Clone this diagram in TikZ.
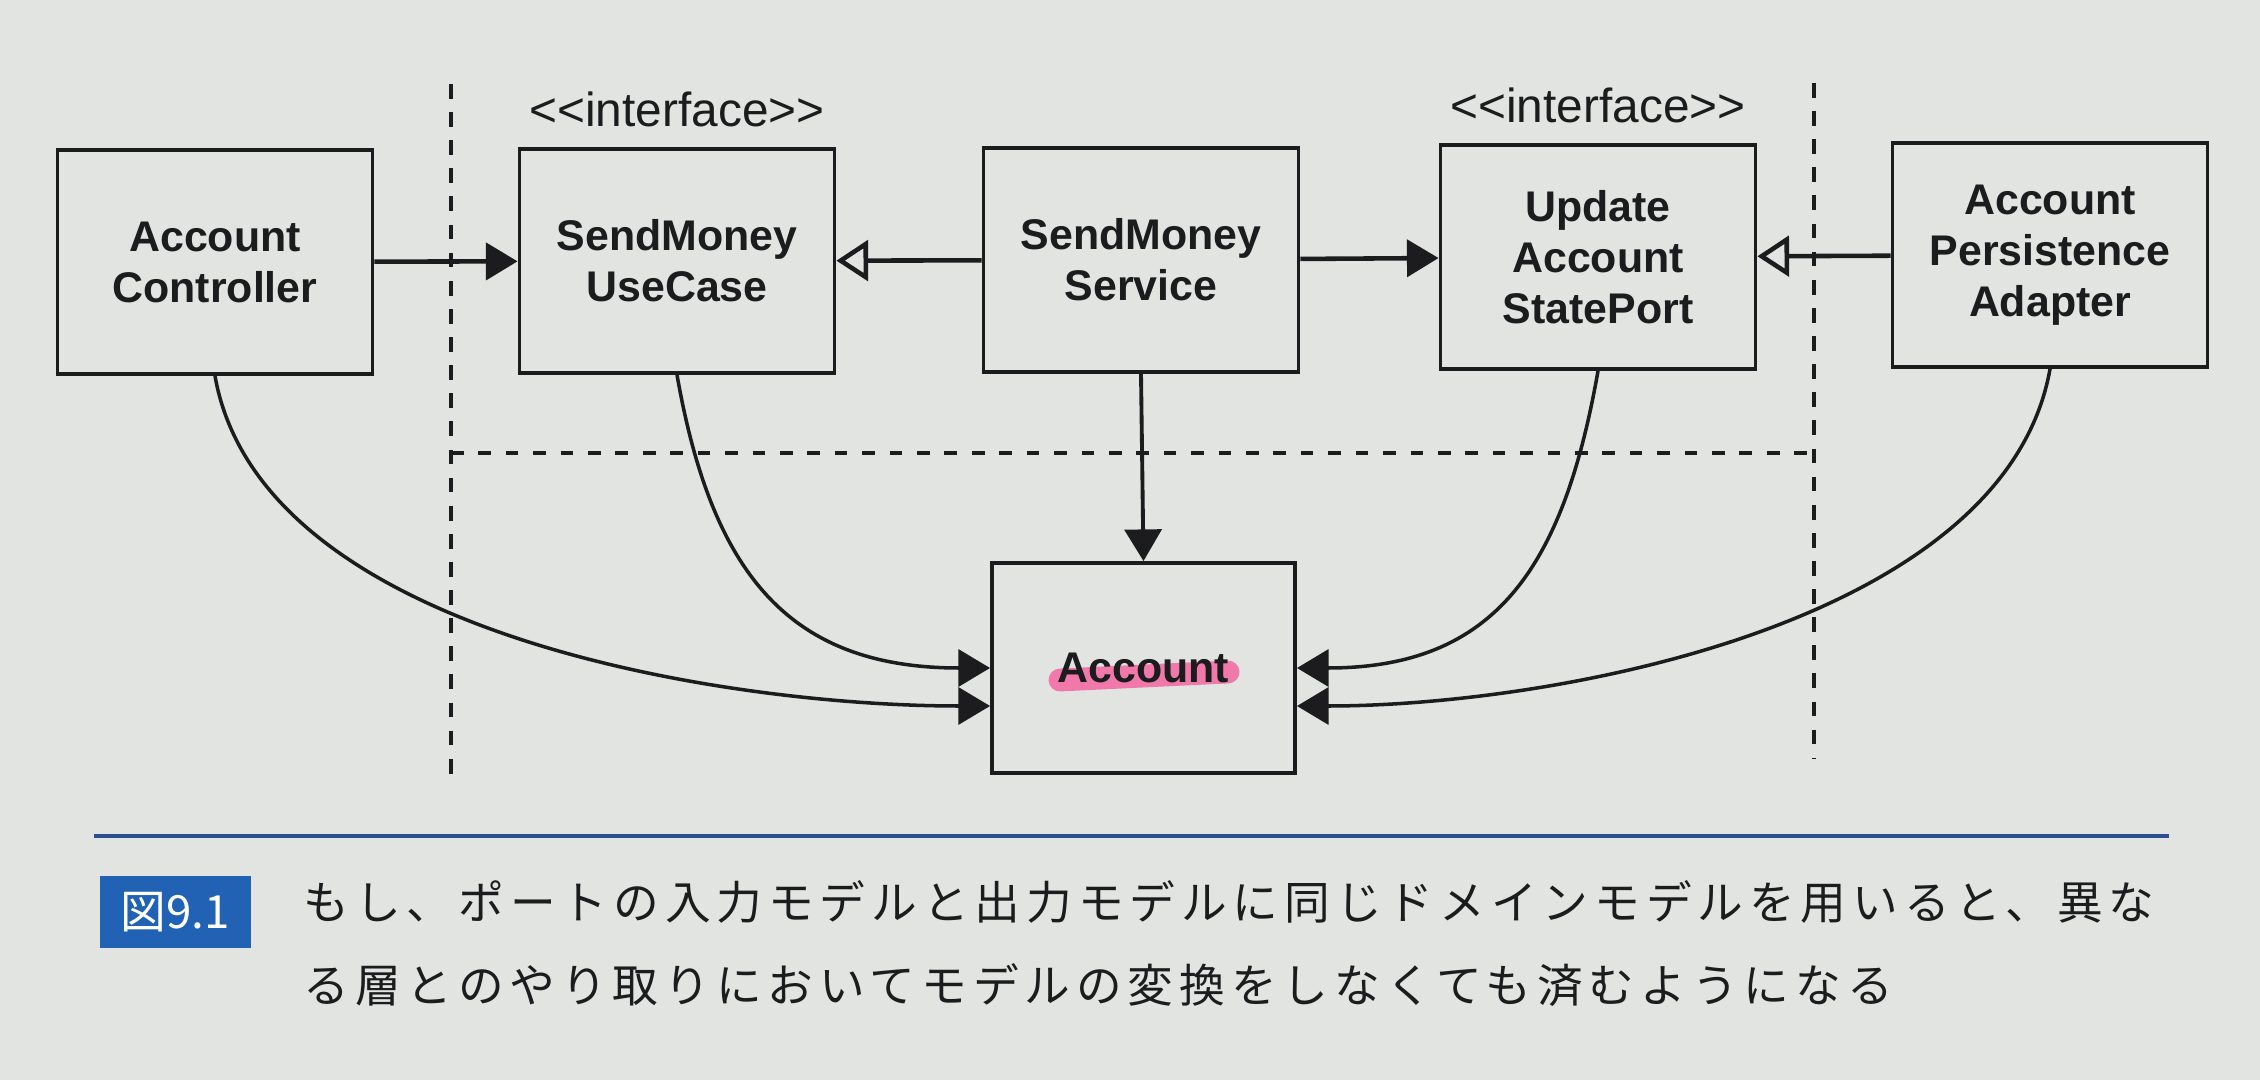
\documentclass[tikz,border=0pt]{standalone}
\usepackage{fontspec}
\usetikzlibrary{arrows.meta}
\newfontfamily\boxfont{Liberation Sans}
\newfontfamily\jpfont{Noto Sans CJK JP}
\newfontfamily\jpcapfont[LetterSpace=13]{Noto Sans CJK JP}
\definecolor{paper}{RGB}{225,228,225}
\definecolor{ink}{RGB}{28,28,30}
\definecolor{capblue}{RGB}{33,98,180}
\definecolor{ruleblue}{RGB}{42,78,145}
\definecolor{marker}{RGB}{240,120,170}
\tikzset{
  box/.style={draw=ink,line width=1.1pt,minimum width=3.15cm,minimum height=2.24cm,
    align=center,text=ink,font=\boxfont\bfseries\fontsize{12.2}{14.5}\selectfont},
  stereotype/.style={inner sep=0pt,text=ink,font=\boxfont\fontsize{13.6}{16}\selectfont},
  calls/.style={draw=ink,line width=1.3pt,-{Triangle[length=9pt,width=10.5pt]}},
  realizes/.style={draw=ink,line width=1.3pt,-{Triangle[open,length=9pt,width=11.5pt]}},
  refers/.style={draw=ink,line width=1pt,-{Triangle[length=9pt,width=10.5pt]}},
  layerline/.style={draw=ink,line width=1.1pt,dash pattern=on 4.2pt off 3.8pt},
}
\begin{document}
\begin{tikzpicture}
  \fill[paper] (0,0) rectangle (22.6,-10.8);

  % layer borders
  \draw[layerline] (4.51,-0.84) -- (4.51,-7.78);
  \draw[layerline] (18.14,-0.83) -- (18.14,-7.59);
  \draw[layerline,line width=1.4pt,dash pattern=on 3.6pt off 4.2pt] (4.51,-4.53) -- (18.14,-4.53);

  \node[box] (ac)   at (2.15,-2.62)  {Account\\Controller};
  \node[box] (smuc) at (6.77,-2.61)  {SendMoney\\UseCase};
  \node[box] (sms)  at (11.41,-2.60) {SendMoney\\Service};
  \node[box] (uasp) at (15.98,-2.57) {Update\\Account\\StatePort};
  \node[box] (apa)  at (20.50,-2.55) {Account\\Persistence\\Adapter};

  \foreach \n in {smuc,uasp}
    \node[stereotype,anchor=base] (\n-st) at ([yshift=0.21cm]\n.north)
      {<\kern0pt<interface>\kern0pt>};

  \draw[line width=6.5pt,marker,line cap=round] (10.60,-6.80) -- (12.28,-6.72);
  \node[box,minimum width=3.03cm,minimum height=2.10cm] (acct) at (11.435,-6.68) {Account};

  \draw[calls] (ac) -- (smuc);
  \draw[realizes] (sms) -- (smuc);
  \draw[calls] (sms) -- (uasp);
  \draw[realizes] (apa) -- (uasp);
  \draw[calls,line width=1.1pt] (sms.south) -- (acct.north);

  \draw[refers] (ac.south) to[out=-80,in=180,looseness=0.8] ([yshift=-0.38cm]acct.west);
  \draw[refers] (smuc.south) to[out=-80,in=180,looseness=1.2] (acct.west);
  \draw[refers] (uasp.south) to[out=-100,in=0,looseness=1.2] (acct.east);
  \draw[refers] (apa.south) to[out=-100,in=0,looseness=0.8] ([yshift=-0.38cm]acct.east);

  % caption
  \draw[ruleblue,line width=1.1pt] (0.94,-8.36) -- (21.69,-8.36);
  \node[fill=capblue,text=white,minimum width=1.51cm,minimum height=0.72cm,inner sep=0pt,
    font=\jpfont\fontsize{13}{15}\selectfont] (fig) at (1.755,-9.12) {図9.1};
  \node[anchor=north west,inner sep=0pt,align=left,text=ink,
    font=\jpcapfont\fontsize{13}{23.6}\selectfont] (captext) at (3.03,-8.80)
    {もし、ポートの入力モデルと出力モデルに同じドメインモデルを用いると、異な\\
     る層とのやり取りにおいてモデルの変換をしなくても済むようになる};
\end{tikzpicture}
\end{document}
